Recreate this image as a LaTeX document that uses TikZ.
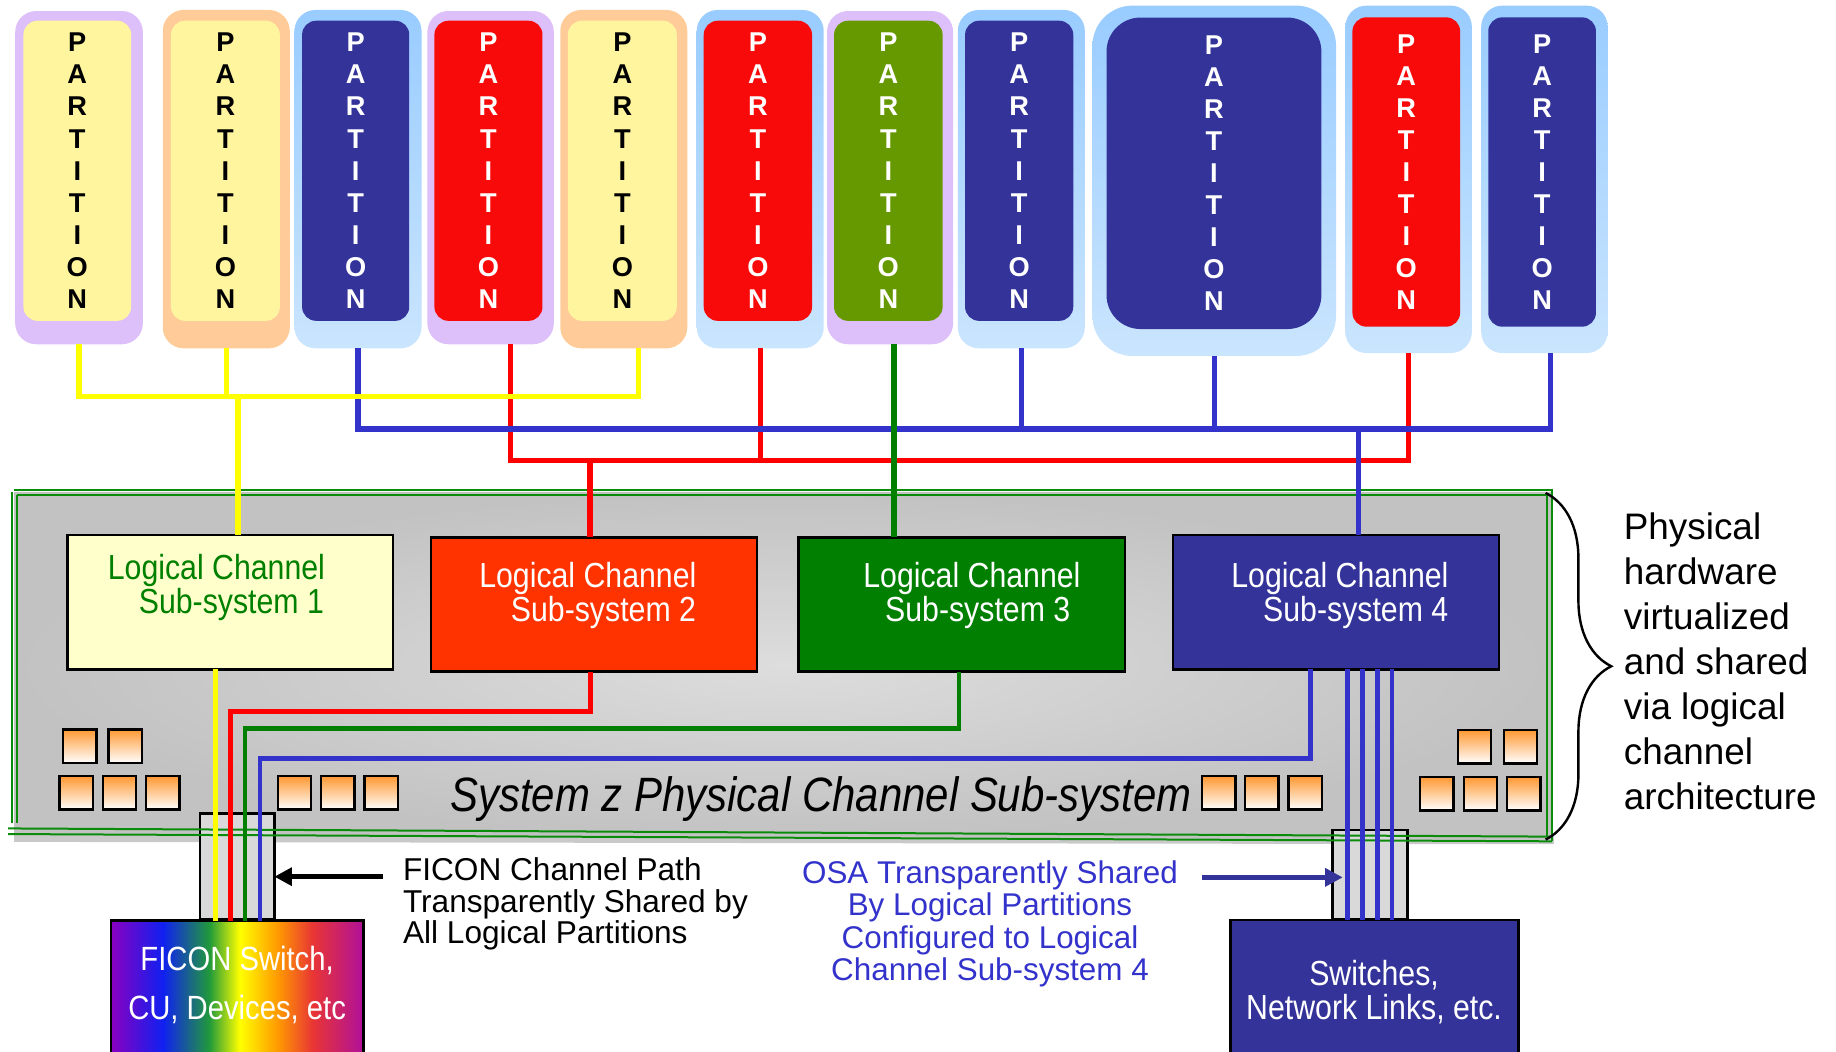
\documentclass[tikz,border=0pt]{standalone}
\usepackage{fontspec}
\setmainfont{Liberation Sans}
\newfontfamily\condf[FakeStretch=0.87]{Liberation Sans}
\usetikzlibrary{calc,arrows.meta,decorations.pathreplacing}
\definecolor{lav}{HTML}{DDBFF9}
\definecolor{peach}{HTML}{FFCC99}
\definecolor{lbtop}{HTML}{99CCFF}
\definecolor{lbbot}{HTML}{CAE5FE}
\definecolor{pyel}{HTML}{FFF59E}
\definecolor{navy}{HTML}{333399}
\definecolor{pred}{HTML}{F80A0A}
\definecolor{olive}{HTML}{669900}
\definecolor{lcsy}{HTML}{FFFFCC}
\definecolor{lcsr}{HTML}{FF3300}
\definecolor{lcsg}{HTML}{007F00}
\definecolor{lyel}{HTML}{FFFF00}
\definecolor{lred}{HTML}{FF0000}
\definecolor{lgrn}{HTML}{007F00}
\definecolor{lblu}{HTML}{3333CC}
\definecolor{txg}{HTML}{008000}
\definecolor{frm}{HTML}{0A8C0A}
\definecolor{sqor}{HTML}{FF9933}
\definecolor{gin}{HTML}{DDDDDD}
\definecolor{gout}{HTML}{C2C2C2}
\definecolor{smallg}{HTML}{D9D9D9}
\definecolor{osab}{HTML}{3333CC}
\definecolor{rbA}{HTML}{8A00C0}
\definecolor{rbB}{HTML}{1020F0}
\definecolor{rbC}{HTML}{219A3A}
\definecolor{rbD}{HTML}{FFFF00}
\definecolor{rbE}{HTML}{FF9A00}
\definecolor{rbF}{HTML}{E83535}
\definecolor{rbG}{HTML}{B0109A}
\pgfdeclarehorizontalshading{rainbow}{100bp}{color(0bp)=(rbA); color(25bp)=(rbA); color(35.3bp)=(rbB); color(44.5bp)=(rbC); color(50.5bp)=(rbD); color(58bp)=(rbE); color(65bp)=(rbF); color(75bp)=(rbG); color(100bp)=(rbG)}
\newcommand{\bx}[7]{\node[#6,inner sep=0pt,outer sep=0pt,minimum width={(#4-#2)*0.5855pt},minimum height={(#5-#3)*0.5855pt}] (#1) at ({(#2+#4)/2},{(#3+#5)/2}) {#7};}
\newcommand{\PT}{P\\A\\R\\T\\I\\T\\I\\O\\N}
\newcommand{\partfont}{\fontsize{13.6}{16.04}\selectfont\bfseries}
\newcommand{\lcsfont}{\condf\fontsize{17.4}{15.8}\selectfont}
\tikzset{
 pbox/.style={rounded corners=10.5pt},
 lavbox/.style={pbox, fill=lav},
 peachbox/.style={pbox, fill=peach},
 bluebox/.style={pbox, top color=lbtop, bottom color=lbbot},
 bluebig/.style={bluebox, rounded corners=20pt},
 pin/.style={rounded corners=7pt, align=center, font=\partfont},
 iny/.style={pin, fill=pyel, text=black},
 inb/.style={pin, fill=navy, text=white},
 inbbig/.style={inb, rounded corners=17pt},
 inr/.style={pin, fill=pred, text=white},
 ing/.style={pin, fill=olive, text=white},
 lcsbox/.style={draw=black, line width=1.2pt},
 smallbox/.style={draw=black, line width=1.3pt, fill=smallg},
 frame/.style={draw=frm, line width=1pt},
 sq/.style={draw=black, line width=1.2pt, top color=sqor, bottom color=white, minimum size=16.7pt, inner sep=0pt},
 conn/.style={line width=2.7pt, line join=miter},
 cy/.style={conn, draw=lyel},
 cr/.style={conn, draw=lred},
 cg/.style={conn, draw=lgrn},
 cb/.style={conn, draw=lblu},
 low/.style={line width=2.4pt},
 thinb/.style={line width=2.1pt, draw=lblu},
 lcstext/.style={anchor=north west, align=left, inner sep=0pt, font=\lcsfont},
}
\begin{document}
\begin{tikzpicture}[x=0.5855pt, y=-0.5855pt]
\useasboundingbox (0,0) rectangle (1568,898);
\clip (0,0) rectangle (1568,898);
% partitions
\bx{p1}{13}{9.4}{122}{294}{lavbox}{}
\bx{p1i}{20}{17.7}{112}{274}{iny}{\PT}
\bx{p2}{139}{8.5}{247.5}{297.5}{peachbox}{}
\bx{p2i}{146}{17.7}{239}{274}{iny}{\PT}
\bx{p3}{251.5}{8.5}{360}{297.5}{bluebox}{}
\bx{p3i}{258}{17.7}{349.5}{274}{inb}{\PT}
\bx{p4}{365}{9.4}{473}{294}{lavbox}{}
\bx{p4i}{371}{17.7}{463.3}{274}{inr}{\PT}
\bx{p5}{478.5}{8.5}{587}{297.5}{peachbox}{}
\bx{p5i}{485}{17.7}{578}{274}{iny}{\PT}
\bx{p6}{595}{8.5}{703.5}{297.5}{bluebox}{}
\bx{p6i}{601}{17.7}{693.5}{274}{inr}{\PT}
\bx{p7}{706.3}{9.4}{814}{294}{lavbox}{}
\bx{p7i}{712.3}{17.7}{805}{274}{ing}{\PT}
\bx{p8}{818}{8.5}{926.5}{297.5}{bluebox}{}
\bx{p8i}{824.2}{17.7}{916.6}{274}{inb}{\PT}
\bx{p9}{933}{4.8}{1141}{304}{bluebig}{}
\bx{p9i}{945}{15}{1128.5}{281}{inbbig}{\PT}
\bx{p10}{1149}{4.8}{1257}{301.5}{bluebox}{}
\bx{p10i}{1155}{14.8}{1247}{279}{inr}{\PT}
\bx{p11}{1265}{4.8}{1373}{301.5}{bluebox}{}
\bx{p11i}{1271}{14.8}{1363}{279}{inb}{\PT}
% physical channel sub-system frame
\fill[gray!42] (12,706) -- (1327,713) -- (1327,721) -- (12,719) -- cycle;
\shade[inner color=gin, outer color=gout] (12,420) -- (1325,420) -- (1325,717) -- (12,711) -- cycle;
\bx{ficbox}{170.8}{694.6}{234.3}{785.5}{smallbox}{}
\bx{osabox}{1138.2}{708.9}{1201.9}{785.5}{smallbox}{}
\draw[frame] (12,418.5) -- (1325.5,418.5) -- (1325.5,718.5);
\draw[frame] (14.2,422.7) -- (1321.5,422.7) -- (1321.5,714.5);
\draw[frame] (10,420) -- (10,703);
\draw[frame] (14.2,422.7) -- (14.2,703);
\draw[frame] (7,707.5) -- (1325.5,714.5);
\draw[frame] (7,712.3) -- (1325.5,718.5);
% squares
\foreach \n/\x/\y in {a/68.2/637.2, b/107/637.2, c/65.2/677.2, d/102/677.2, e/139.1/677.2,
  f/251.5/677.2, g/288.5/677.2, h/325.5/677.2,
  i/1040.9/677.2, j/1077.6/677.2, k/1114.6/677.2,
  l/1259.2/637.7, m/1298.6/637.7, n/1227.2/677.9, o/1264.4/677.9, p/1301.2/677.9}
  {\node[sq] (sq\n) at (\x,\y) {};}
% logical channel sub-systems
\bx{lcs1}{57.6}{457}{335.6}{571.6}{lcsbox, fill=lcsy}{}
\bx{lcs2}{368}{459}{646.5}{573.6}{lcsbox, fill=lcsr}{}
\bx{lcs3}{682}{459}{961}{573.6}{lcsbox, fill=lcsg}{}
\bx{lcs4}{1001.6}{457}{1280}{571.6}{lcsbox, fill=navy}{}
% external boxes
\bx{ficon}{94.8}{786.3}{310.3}{910}{draw=black, line width=1.3pt, shade, shading=rainbow}{}
\bx{sw}{1051}{785.7}{1296.7}{910}{draw=black, line width=1.3pt, fill=navy}{}
% bus levels
\coordinate (yb) at (0,338.8);
\coordinate (bb) at (0,366.4);
\coordinate (rb) at (0,393.5);
% red bus
\coordinate (p4d) at ($(p4.south)+(17,0)$);
\draw[cr] (p4d) |- (p10.south |- rb) -- (p10.south);
\draw[cr] (p6.south) -- (p6.south |- rb);
\coordinate (l2t) at ($(lcs2.north)+(-3.3,0)$);
\draw[cr] (l2t |- rb) -- (l2t);
% blue bus
\coordinate (p11d) at ($(p11.south)+(5,0)$);
\draw[cb] (p3.south) |- (p11d |- bb) -- (p11d);
\draw[cb] (p8.south) -- (p8.south |- bb);
\draw[cb] (p9.south) -- (p9.south |- bb);
\coordinate (l4t) at ($(lcs4.north)+(19.2,0)$);
\draw[cb] (l4t |- bb) -- (l4t);
% yellow bus
\coordinate (p5d) at ($(p5.south)+(12.5,0)$);
\draw[cy] (p1.south) |- (p5d |- yb) -- (p5d);
\draw[cy] (p2.south) -- (p2.south |- yb);
\coordinate (l1t) at ($(lcs1.north)+(6.7,0)$);
\draw[cy] (l1t |- yb) -- (l1t);
% green
\coordinate (p7d) at ($(p7.south)+(3.5,0)$);
\draw[cg] (p7d) -- (p7d |- lcs3.north);
% lower connectors
\coordinate (rl) at (0,607.8);
\coordinate (gl) at (0,622);
\coordinate (bl) at (0,648);
\coordinate (l1b) at ($(lcs1.south)+(-12.4,0)$);
\coordinate (l2b) at ($(lcs2.south)+(-2.8,0)$);
\coordinate (l3b) at ($(lcs3.south)+(-2.5,0)$);
\coordinate (l4b) at ($(lcs4.south)+(-21.8,0)$);
\coordinate (fr) at ($(ficon.north)+(-5.5,0)$);
\coordinate (fg) at ($(ficon.north)+(6.7,0)$);
\coordinate (fb) at ($(ficon.north)+(19.5,0)$);
\draw[cy, low] (l1b) -- (l1b |- ficon.north);
\draw[cr, low] (l2b) -- (l2b |- rl) -| (fr);
\draw[cg, low] (l3b) -- (l3b |- gl) -| (fg);
\draw[cb, low] (l4b) -- (l4b |- bl) -| (fb);
\foreach \dx in {10,22.8,35.6,48.2} {
  \coordinate (t) at ($(lcs4.south)+(\dx,0)$);
  \draw[thinb] (t) -- (t |- sw.north);
}
% arrows
\coordinate (fa) at (326.8,748.7);
\draw[line width=2.35pt, -{Triangle[length=8.8pt,width=8.8pt]}] (fa) -- (fa -| ficbox.east);
\coordinate (oa) at (1026.8,749.3);
\draw[draw=navy, line width=2.8pt, -{Triangle[length=8.8pt,width=8.8pt]}, shorten >=-5pt] (oa) -- (oa -| osabox.west);
% brace
\draw[line width=1.2pt, decorate, decoration={brace, amplitude=32.8pt}] (1320,421) -- (1320,717);
% texts
\node[lcstext, text=txg] (t1) at (91.8,472.7) {Logical Channel\\\hspace*{15.5pt}Sub-system 1};
\node[lcstext, text=white] (t2) at (409,479.7) {Logical Channel\\\hspace*{15.8pt}Sub-system 2};
\node[lcstext, text=white] (t3) at (737,479.7) {Logical Channel\\\hspace*{10.9pt}Sub-system 3};
\node[lcstext, text=white] (t4) at (1051.3,479.7) {Logical Channel\\\hspace*{15.9pt}Sub-system 4};
\node[anchor=base west, inner sep=0pt, font=\condf\itshape\fontsize{24.1}{26}\selectfont] (sysz) at (384.3,693.2) {System z Physical Channel Sub-system};
\node[anchor=north, align=center, inner sep=0pt, text=white, font=\condf\fontsize{16.8}{24.2}\selectfont] (ficont) at (202.5,807.8) {FICON Switch,\\CU, Devices, etc};
\node[anchor=north, align=center, inner sep=0pt, text=white, font=\condf\fontsize{17.4}{16.7}\selectfont] (swt) at (1173.5,819.9) {Switches,\\Network Links, etc.};
\node[anchor=north west, align=left, inner sep=0pt, font=\fontsize{15.8}{15.8}\selectfont] (fpath) at (343.9,732.3) {FICON Channel Path\\Transparently Shared by\\All Logical Partitions};
\node[anchor=north, align=center, inner sep=0pt, text=osab, font=\fontsize{15.7}{16.2}\selectfont] (osat) at (845.5,734.6) {OSA Transparently Shared\\By Logical Partitions\\Configured to Logical\\Channel Sub-system 4};
\node[anchor=north west, align=left, inner sep=0pt, font=\fontsize{18.44}{22.42}\selectfont] (rtext) at (1386.5,438) {Physical\\hardware\\virtualized\\and shared\\via logical\\channel\\architecture};
\end{tikzpicture}
\end{document}
